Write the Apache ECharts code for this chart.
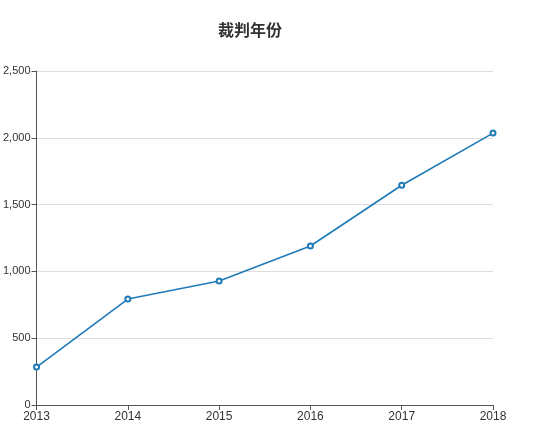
<!DOCTYPE html>
<html>
<head>
<meta charset="utf-8">
<script src="https://cdn.jsdelivr.net/npm/echarts@6/dist/echarts.min.js"></script>
<style>
  html, body { margin: 0; padding: 0; background: #fff; }
</style>
</head>
<body>
<div id="main" style="width: 550px; height: 437px"></div>
<script>
const years = ['2013', '2014', '2015', '2016', '2017', '2018'];
const counts = [284, 793, 928, 1190, 1645, 2035];

const myChart = echarts.init(document.getElementById('main'));
myChart.setOption({
  title: {
    text: '裁判年份',
    left: 213,
    top: 17,
    textStyle: {
      fontSize: 16,
      fontWeight: 'bold',
      color: '#333',
      fontFamily: 'Noto Sans CJK SC'
    }
  },
  grid: {
    left: 36,
    right: 57,
    top: 71,
    bottom: 32
  },
  xAxis: {
    type: 'category',
    data: years,
    boundaryGap: false,
    axisLine: { lineStyle: { color: '#555' } },
    axisTick: { lineStyle: { color: '#555' } },
    axisLabel: { color: '#333', fontSize: 12, margin: 6 }
  },
  yAxis: {
    type: 'value',
    min: 0,
    max: 2500,
    interval: 500,
    axisLine: { show: true, lineStyle: { color: '#555' } },
    axisTick: { show: true, lineStyle: { color: '#555' } },
    axisLabel: { color: '#333', fontSize: 11, margin: 6 },
    splitLine: { lineStyle: { color: '#ddd' } }
  },
  series: [
    {
      name: '裁判年份',
      type: 'line',
      data: counts,
      symbol: 'emptyCircle',
      symbolSize: 5,
      itemStyle: { color: '#1f7ab8', borderWidth: 1 },
      lineStyle: { width: 1.6, color: '#1f7ab8' }
    }
  ]
});
</script>
</body>
</html>
